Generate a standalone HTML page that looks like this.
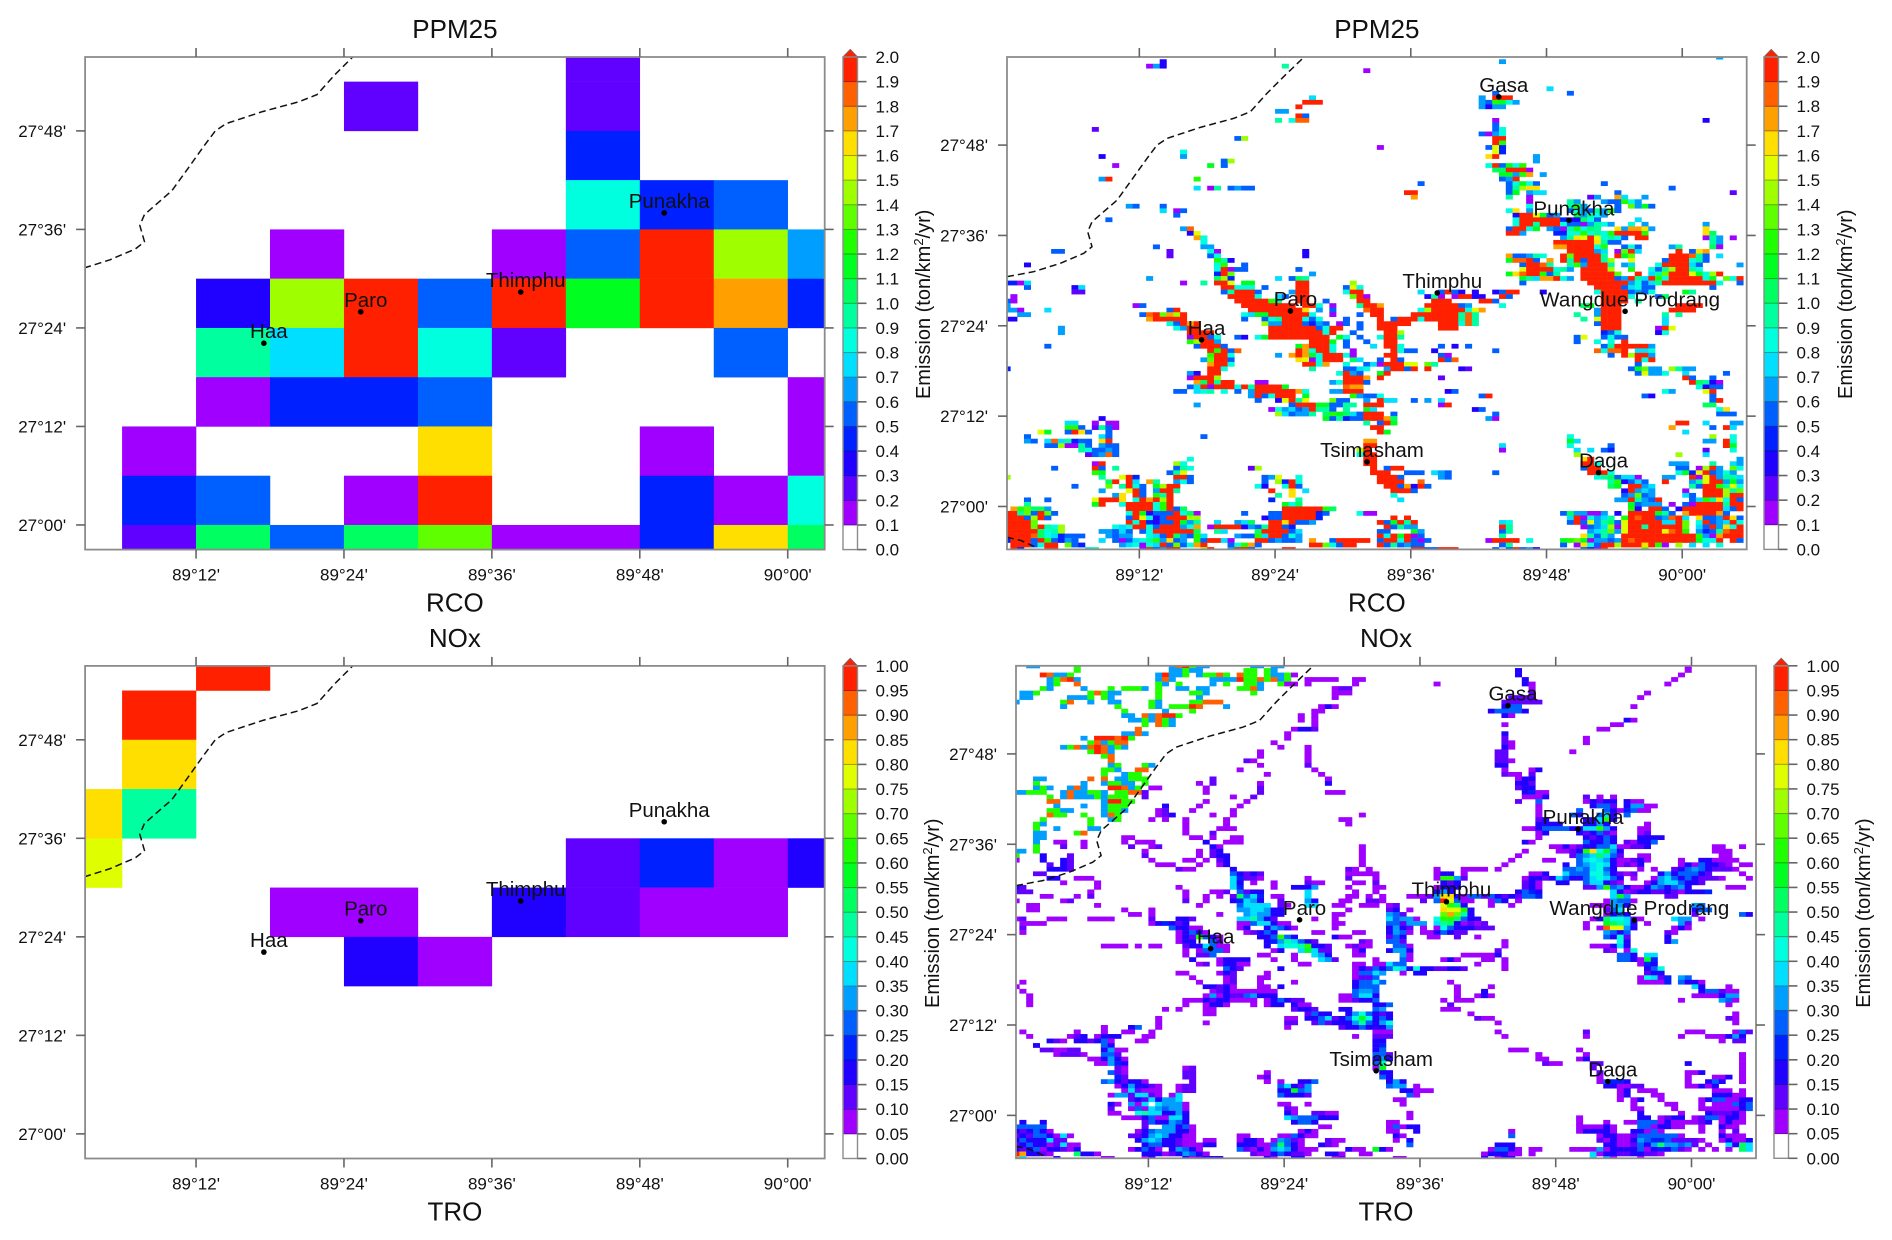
<!DOCTYPE html>
<html lang="en">
<head>
<meta charset="utf-8">
<title>PPM25 and NOx emission maps</title>
<style>
html,body{margin:0;padding:0;background:#fff;width:1892px;height:1240px;overflow:hidden}
svg{display:block;font-family:"Liberation Sans",sans-serif;fill:#111}
</style>
</head>
<body>
<svg id="chart" xmlns="http://www.w3.org/2000/svg" width="1892" height="1240" viewBox="0 0 1892 1240"></svg>
<script>
/* ---------- chart data ---------- */
const lonTickValues = [89.2, 89.4, 89.6, 89.8, 90.0];
const lonTickLabels = ["89°12'", "89°24'", "89°36'", "89°48'", "90°00'"];
const latTickValues = [27.8, 27.6, 27.4, 27.2, 27.0];
const latTickLabels = ["27°48'", "27°36'", "27°24'", "27°12'", "27°00'"];
const ppmLegendLabels = ["0.0","0.1","0.2","0.3","0.4","0.5","0.6","0.7","0.8","0.9","1.0","1.1","1.2","1.3","1.4","1.5","1.6","1.7","1.8","1.9","2.0"];
const noxLegendLabels = ["0.00","0.05","0.10","0.15","0.20","0.25","0.30","0.35","0.40","0.45","0.50","0.55","0.60","0.65","0.70","0.75","0.80","0.85","0.90","0.95","1.00"];
const paletteColors = ["#ffffff","#9f00ff","#6000ff","#2000ff","#0020ff","#0060ff","#009fff","#00dfff","#00ffdf","#00ff9f","#00ff60","#00ff20","#20ff00","#60ff00","#9fff00","#dfff00","#ffdf00","#ff9f00","#ff6000","#ff2000"];

const coarseCityNames = ["Haa","Paro","Thimphu","Punakha"];
const coarseCityLons = [89.2917,89.4227,89.639,89.833];
const coarseCityLats = [27.369,27.4328,27.4728,27.6336];
const fineCityNames = ["Gasa","Punakha","Thimphu","Wangdue Prodrang","Paro","Haa","Tsimasham","Daga"];
const fineCityLons = [89.7297,89.833,89.639,89.9158,89.4227,89.2917,89.5355,89.8767];
const fineCityLats = [27.9069,27.6336,27.4728,27.432,27.4328,27.369,27.0987,27.075];

const borderLons = [89.005,89.0443,89.0837,89.118,89.1303,89.1239,89.1303,89.1672,89.1867,89.2113,89.2261,89.2408,89.2898,89.3389,89.3635,89.388,89.4125,89.442];
const borderLats = [27.5086,27.5197,27.5383,27.5604,27.575,27.6082,27.6303,27.6783,27.7188,27.7706,27.8,27.8148,27.8392,27.8591,27.8737,27.9144,27.9511,27.994];
const cornerBorderLons = [89.005,89.025,89.05];
const cornerBorderLats = [26.932,26.925,26.908];

/* 0.1 degree grid, values in ton/km2/yr; rows run north to south */
const ppmCoarse = [
[0,0,0,0,0,0,0,0.25,0,0,0],
[0,0,0,0,0.25,0,0,0.25,0,0,0],
[0,0,0,0,0,0,0,0.45,0,0,0],
[0,0,0,0,0,0,0,0.85,0.45,0.55,0],
[0,0,0,0.15,0,0,0.15,0.55,1.95,1.45,0.65],
[0,0,0.35,1.45,1.95,0.55,1.95,1.15,1.95,1.75,0.45],
[0,0,0.95,0.75,1.95,0.85,0.25,0,0,0.55,0],
[0,0,0.15,0.45,0.45,0.55,0,0,0,0,0.15],
[0,0.15,0,0,0,1.65,0,0,0.15,0,0.15],
[0,0.45,0.55,0,0.15,1.95,0,0,0.45,0.15,0.85],
[0,0.25,1.05,0.55,1.05,1.35,0.15,0.15,0.45,1.65,1.05]
];
const noxCoarse = [
[0,0,0.975,0,0,0,0,0,0,0,0],
[0,0.975,0,0,0,0,0,0,0,0,0],
[0,0.825,0,0,0,0,0,0,0,0,0],
[0.825,0.475,0,0,0,0,0,0,0,0,0],
[0.775,0,0,0,0,0,0,0.125,0.225,0.075,0.175],
[0,0,0,0.075,0.075,0,0.175,0.125,0.075,0.075,0],
[0,0,0,0,0.175,0.075,0,0,0,0,0],
[0,0,0,0,0,0,0,0,0,0,0],
[0,0,0,0,0,0,0,0,0,0,0],
[0,0,0,0,0,0,0,0,0,0,0],
[0,0,0,0,0,0,0,0,0,0,0]
];

/* 0.01 degree grid: each entry is [row, firstColumn, level, level, ...]; level N means the Nth legend bin */
const ppmFine = [
[0,105,6],[1,23,3],[1,73,6],[2,21,1,6,3],[2,41,9],[3,53,1],[7,80,7],[8,72,5],[8,83,5],
[9,45,7],[9,70,6],[9,72,19,19,19],[10,44,19,19,19],[10,70,6,5,12,11,8,6],[11,43,19],[11,70,6,3,6,6],
[12,40,6,6],[13,43,19,5],[14,40,9],[14,42,8,18,18],[14,72,1],[14,103,3],[15,72,5],[16,13,2],[16,72,5,8],
[17,70,5,1,6,8],[18,34,5,14],[18,72,19,19],[19,72,19,12],[20,55,1],[20,71,5,15,4],[21,26,8],[21,72,15,4],
[22,14,3],[22,26,6],[22,71,16,19],[22,78,6],[23,32,5,14],[23,78,6],[24,16,1],[24,30,11],[24,32,5],
[24,71,8,19,5,11,8,12],[25,72,10,10,19,19,19,1],[26,73,11,11,6,12,17],[26,79,6],[27,14,6,19],[27,28,12],
[27,73,5,6,19],[28,61,5],[28,74,5,8,11,8,5],[28,88,5],[29,28,7],[29,30,1,9],[29,33,5,6,5,5],
[29,74,5,9,14,16,16],[29,98,5],[30,59,19,19],[30,74,5,11],[30,77,6,7,7],[30,90,5],[30,107,2],[31,60,17],
[31,74,9],[31,77,1],[31,86,2,6],[31,90,17,7],[31,94,6],[32,77,1],[32,83,9,6],[32,88,6,5,5,12,8,6],
[33,18,6,5],[33,23,5],[33,77,8],[33,83,9,12,6],[33,90,5],[33,92,13,6,11,5],[34,23,7],[34,25,1,5],[34,74,8,16],[34,77,6],
[34,83,5,8,6,5,9,6,12,5],[35,25,5],[35,75,3,19,19,15,11,5,6],[35,84,11,6,9,8,6],[36,15,5],
[36,75,8,19,19,19,19,19,19,4,3,3,10,8,5],[36,93,7],[37,75,8,19,19,9,19,19,19,8,5,5,1,6,9,8,6],[37,92,8],[37,94,6],[37,103,6],
[38,26,6,18],[38,74,5,19,19,8,11],[38,80,6,5,1,9,12,8,10,9],[38,90,16,6,17,17,16,6],[38,103,16],
[39,27,3,15],[39,74,19,19,6],[39,81,4,4,8,8,12,8,9,8,12,19,19,19,19,12],[39,103,16,10],
[40,28,17,8],[40,82,6,9,16,15,19,15,8],[40,89,9,8,5],[40,93,19,19],[40,103,1,9,6],[40,107,1],
[41,29,8],[41,81,19,19,19,19,19,19,16,9,5,5],[41,104,9,6],
[42,22,5],[42,29,6,6],[42,81,17,17,19,19,19,19,8,12],[42,91,5,8,5],[42,98,6,9],[42,104,10,1],
[43,7,5,5],[43,24,2],[43,30,8,1],[43,44,3],[43,83,19,19,19,19,6,7],[43,90,1,13,19,7],[43,99,19],[43,101,5,16,17],
[44,24,2],[44,30,5,8],[44,44,3],[44,74,17,5,5,6,9,8],[44,82,19,13,19,19,19,19,9],[44,90,19,11,13],[44,98,19,19,19,18,9,5],[44,105,7],
[45,31,12,9,3],[45,74,11,18,18,19,5],[45,80,17],[45,82,19,9,19,5,19,19,9,14],[45,92,15],[45,97,5,19,19,19,8,9,5],
[46,3,3],[46,31,8,12],[46,35,5],[46,76,5,19,19,18,9],[46,83,9,12,6,19,19,19,9],[46,91,6,7],[46,96,8,19,19,19,19,7,5],[46,108,6],
[47,31,8,19,1,5,5],[47,43,5],[47,76,15,19,19,19,19,8,9,6],[47,85,19,19,19,19,14],[47,92,12],[47,95,8,5,9,14,19,19,9,8],
[48,31,4,19,13],[48,45,6],[48,74,11,16,18,19,19,12,5,9],[48,85,19,19,19,19,19,13],[48,93,19],[48,95,7,9,13,19,19,19,15,11,8],[48,104,14,19],
[49,21,6],[49,31,10,14,4],[49,40,7],[49,42,5,10,9],[49,76,11,9,7,17,17,19,8,6],[49,85,19,19,19,19,19,5,6,19,9,7,19,12,8,19,19,19,19,19,8,11],[49,106,13,8,19],
[50,0,4,4,1,7],[50,26,1],[50,29,9],[50,31,19,19,15],[50,35,11,11],[50,43,19,19],[50,51,14],[50,76,5],[50,86,19,19,19,19,19,19,6,8,5,7,9,19,19,19,19,19,19,19,19,8],[50,108,5],
[51,3,5],[51,10,3,7],[51,32,19,19,8,8,8],[51,38,5],[51,43,19,19],[51,50,5,15,8],[51,87,19,19,19,19,5,7,8,5,5],[51,104,5],
[52,10,2,2],[52,32,5,9,19,19,19,5],[52,42,6,19,19],[52,50,8,19,19],[52,61,7],[52,64,5,19,5,3],[52,69,3],[52,72,3,5,19,19],[52,79,3],[52,87,8,19,19,19,19,5,6,5,8],[52,100,11,9],
[53,1,1],[53,33,19,19,19,19,8],[53,40,7,5],[53,43,19,19],[53,51,13,19,1],[53,62,3,9,1],[53,66,1,19,19,3,3],[53,73,19,5],[53,88,19,19,19,19,8],[53,96,5,10],
[54,0,5,1],[54,34,19,19,19,19,19,12,9],[54,43,19,19],[54,47,5],[54,52,19,19],[54,63,19,19,19],[54,70,19,19,5],[54,88,19,19,19,19],[54,93,9],
[55,0,6],[55,19,1,5],[55,35,19,19,19,19,19,19,19],[55,42,19],[55,44,19,19,8],[55,48,1],[55,52,9,19,19,17],[55,62,19,19,19,19,19,5,6],[55,73,8],[55,85,10,11],[55,88,19,19,19],[55,99,19,19,19,19],
[56,0,6,6,1],[56,6,7],[56,24,5,19],[56,36,19,19,19,19,19,19,19,19,16],[56,46,6],[56,48,5],[56,53,18,19,19],[56,61,8,14,19,19,19,19,19,8,15,17],[56,87,6,19,19,19],[56,98,19,19,19,19],
[57,2,6,6],[57,20,5,18,19,13,17,14,19],[57,35,8,7,11,11,19,19,19,19,19,19,8],[57,48,1],[57,52,5],[57,54,19,19],[57,60,19,19,19,19,19,19,19,9],[57,68,18,9],[57,84,9],[57,87,6,19,19,19],[57,97,9],[57,99,9],
[58,0,3,3],[58,21,17,19,19,19,19,19],[58,35,5],[58,38,5,8,9,19,19,19,8,5,8],[58,50,5],[58,55,19],[58,57,5,19,19,19,8],[58,62,19,19,19,19,19,9,18,9],[58,85,9],[58,87,15,19,19,19],[58,97,7],
[59,24,8,5,19,17,19],[59,38,14,6,6,19,19,19,5,4,6,5],[59,49,1,5],[59,52,5],[59,55,19,19,19,19,19],[59,64,19,19,19,8],[59,68,18,9],[59,87,5,19,19,19],[59,97,7],
[60,8,6],[60,25,8,6,19,19],[60,39,19,19,19,19,19,19,19,5,8,19,19],[60,52,5],[60,55,19,19,19],[60,64,19,19,19],[60,88,19,19,19],[60,96,1,19,15],
[61,8,6],[61,27,19,19,19,19],[61,39,19,19,19,19,19,19,19,19,8,19],[61,51,5],[61,56,19,19],[61,58,14],[61,88,4,5,8],[61,96,3,8],
[62,27,1,19,19,5,8],[62,34,5,3],[62,37,8,11,19,19,19,19,19,19,19,19,19],[62,49,11,8],[62,52,5],[62,55,8,19,19,9],[62,84,5,15],[62,88,5,8,5,5],
[63,27,12,14,19,19,6],[63,45,19,19,19,11],[63,50,5],[63,53,5],[63,56,19,19],[63,84,5],[63,87,8],[63,89,8],[63,91,19],
[64,6,5],[64,28,5,19,19,19,5],[64,43,11,17,19,19,19,8],[64,50,5],[64,54,7],[64,56,19,19,8],[64,64,5],[64,66,3],[64,68,5],[64,88,5,9,19,19,19,19,19,6],
[65,30,19,12,19,5,18],[65,43,19,17,8,19,19,8],[65,51,1],[65,57,19,8,5,5],[65,63,3],[65,72,5],[65,87,18,8,18,18,19],[65,93,7,7,8],
[66,30,12,19,19,8],[66,40,6],[66,42,17,19,17,11,8,19,19,19,8,1],[66,56,19,19],[66,64,5,1],[66,89,5],[66,91,19,14,19,19,6],
[67,29,6,13,19,19,5],[67,43,16,15,1,8,19,19,19],[67,51,10,7],[67,55,5],[67,57,19,5],[67,64,19,5,18],[67,93,19,8,19],
[68,30,17,19,19,8],[68,44,19,19,8,17],[68,50,8],[68,53,5,7],[68,55,1,19,19,19,15,15],[68,62,13,9],[68,93,5],
[69,0,4],[69,30,19,19,8],[69,45,9],[69,50,5,5,7,8],[69,56,6,19,19,5,19],[69,62,19],[69,67,3,2],[69,92,5,11,13,6,6],[69,98,14,9,6],[69,101,6],
[70,27,6,3],[70,30,19,19],[70,49,8,19,6,5],[70,55,11,19],[70,93,5,15,6,6,8],[70,100,7],[70,106,5],
[71,27,1,19,19,19,14],[71,50,19,19,19,17],[71,55,19],[71,64,2],[71,100,19,5],[71,104,5],
[72,28,17,10,19,9,19,19],[72,37,1,1],[72,48,6,8,19,19,19],[72,53,5],[72,101,19,10,9,3,1],
[73,27,5,7,19,1,19,19,19,8,19,9,19,19,19,19,11],[73,50,18,17,17],[73,102,8,3,5,5],
[74,25,5,5],[74,28,7,8,9],[74,32,8],[74,34,5],[74,36,6,19,19,19,19,19,19,17,8],[74,48,6,6,19,19,19],[74,65,3,5],[74,97,8,6],[74,103,15,19],
[75,36,6,19,5,8,19,19,19],[75,44,11],[75,51,12,6,5,5],[75,55,8],[75,70,5,19],[75,94,5,3],[75,104,5],
[76,37,5],[76,40,3,15,19,9,15],[76,48,13,5,5],[76,53,6],[76,55,19,7,7],[76,60,5],[76,62,6],[76,64,7],[76,104,5,19],
[77,28,6],[77,42,5,19,19,19,11,11,5,5,9,9],[77,53,19,19,19],[77,64,1,19],[77,103,10,10],
[78,39,1,8,6,7,5,6,19,9,9,5],[78,50,9],[78,53,11,7],[78,69,3,5],[78,105,8,16],
[79,40,14,7,5,6,6,9],[79,47,10,12,11,10,7,5,19,19,19],[79,57,5],[79,72,5],[79,105,5,5,5],
[80,14,3],[80,47,11,5,9,4,5,5,19,19,19,17,10],[80,71,6,1],
[81,9,7,7],[81,13,1],[81,15,1,1],[81,53,9],[81,55,5,19,11],[81,99,19,19],[81,103,7],[81,107,6,6],
[82,9,12,12,5],[82,13,2,9,5,1],[82,54,19,19],[82,98,17],[82,104,5],[82,106,19,7],
[83,5,15,11],[83,9,5,19,16,5],[83,15,5],[83,55,19,11],[83,100,7],[84,3,5],[84,14,7,5],[84,29,5],[84,83,8],[84,104,14],[84,107,8],
[85,3,6,5],[85,6,7,18,7,9,4,5,5],[85,14,16,19],[85,53,17,17],[85,83,11,7],[85,103,6,6],[85,106,19,8],
[86,6,5,5,14,1,1,9,5],[86,14,6,5,5],[86,53,19,19],[86,73,7],[86,83,8],[86,89,5],[86,106,19,11],
[87,11,9,8,5,5,6,5],[87,52,14,19],[87,73,1],[87,84,7],[87,86,7],[87,88,5,4],[87,103,2],[87,107,8],
[88,12,2,5,6,18,5],[88,52,8,19,19],[88,84,14],[88,99,14],[88,103,7],[89,27,8],[89,53,19,19],[89,85,16,19],[89,108,6],
[90,13,1,19],[90,25,14,8],[90,53,19,19],[90,85,19,19,8],[90,98,6,6,6],[90,104,9],[90,107,7,6],
[91,7,5],[91,13,19,5],[91,16,9],[91,25,5,9,8],[91,36,2,14],[91,54,19],[91,56,5,19,19],[91,85,5,19,19],[91,99,5,5],[91,102,1,14,19,6],[91,107,13,8],
[92,13,12,11],[92,24,5,9,15],[92,54,19,19,19],[92,59,5,5,5],[92,63,7,6,5],[92,72,5],[92,86,19,19,19,8],[92,99,8,11,4,15,19,5,6,8,6],
[93,0,14],[93,14,9],[93,17,15,19,4],[93,25,19,19,5],[93,38,5,6,15],[93,43,8],[93,55,19,19,19,5],[93,64,6,5],[93,87,8,9,10,5,7,7,1],[93,97,6,6],[93,101,19,1,15,19,6,9,9,7],
[94,15,10,19],[94,18,19,7],[94,21,17,9],[94,25,6,8,5],[94,38,5],[94,40,14,4,19,8],[94,55,19,19,19,19],[94,61,18],[94,89,9,12,3,5,7,5],[94,97,19],[94,101,6,9,15,19,19,6,11,6],
[95,10,5],[95,15,13],[95,17,9,19,8,5],[95,22,11,14,19,19],[95,37,8,3],[95,41,8,19,5],[95,56,19,19,5,17,3,19],[95,62,5],[95,89,10,11],[95,92,19,19,6,7],[95,101,9,5,19,19,12,9,15,8],
[96,14,6],[96,18,15,19,5],[96,22,6,19,19,9],[96,39,19],[96,42,16],[96,44,7],[96,57,19,19,19,5],[96,91,3,19,6,7,6],[96,100,1],[96,103,19,19,19,14,9,13],
[97,16,6,16],[97,19,19,5],[97,22,12,9,19],[97,40,9],[97,42,16],[97,57,8],[97,91,5,6,13,5,6],[97,100,7,5],[97,103,19,19,19,14,19,19],
[98,3,5],[98,6,5],[98,13,15,19,19,19,16],[98,19,8,19,17,19,14,19],[98,39,4],[98,43,9],[98,58,7],[98,90,6,6,19,9,6,5,19],[98,101,5,7,12,9,16,8,19,5],
[99,3,9],[99,13,11,19],[99,17,8,19,19,19,19,8,12,19],[99,41,11,8,10],[99,92,11,5,6,6,6],[99,98,1],[99,100,5,1,19,19,19,19,9,19,19],
[100,1,17,12,13,10,10,6],[100,18,19,19,19,19,8,12,19,5,10],[100,41,19,19,19,19,19,19,12,10],[100,92,12,3],[100,95,19,19,5],[100,99,3,19,19,19,19,19,19,7,5,19],
[101,0,19,19,9,13,5,19,13,5],[101,18,8,19,11,3,5,5,5,19,8,10,1],[101,35,5],[101,39,5,5,19,19,19,19,19,4,5],[101,52,8,1,1],[101,82,5,10,6,6,1,1,6],[101,90,3],[101,92,19,19,19,19,11,9,5],[101,100,17,19,19,19,19,17,5],
[102,0,19,19,19,5,14,19,5],[102,18,5,19,15,8,3,5,19,19,19,14,14],[102,38,3,5,5,19,19,19,19,19,4],[102,57,19],[102,59,19],[102,83,7,19,1,8,6,7,9],[102,91,12,19,18,19,19,5,6,18,19,7],[102,102,16,5,5,6,19,16,5],
[103,0,19,19,19,19,13],[103,18,19,8,19,4,3,5,5,19,11,6,9],[103,31,7],[103,34,6,7,10],[103,39,19,19,16,19,5,5,6],[103,55,19,5,11,19,9,19],[103,73,7,8],[103,83,5,19,5,15,6,9,10,5,15,19,19,19,19,19,7,7,19,13],[103,102,8,19,5,6,7,19,8],
[104,0,19,19,19,19,13,19,9,8,14],[104,16,8,7,8,19,19,8,5,19,19,19,6,8,17],[104,30,1,19,19,19,19,3,6,5,9,19,19,5,4],[104,56,19,5,9,6,6],[104,73,19,9],[104,85,1,5,6,7,14,1,15,19,19,9,19,19,19,19,19,13],[104,102,7,5,19,6,16,8,19],
[105,0,19,19,19,19,19,10,8,9,14],[105,14,6,6,5,7,5],[105,20,5,8,19,19,19,19,19,19,10],[105,31,9,7],[105,37,10,19,19,19,19,5,7],[105,55,5,5],[105,60,11,6],[105,73,5,9],[105,86,6,7,9,13,6,15,19,19,19,19,19,15,18,19,12],[105,102,6,4,5,9,18,19,19],
[106,0,19,19,19,19,18,10,8,7,4],[106,9,5,5,5],[106,15,6,5,6,6],[106,21,8,7,5,19,10,6,5,12,7],[106,34,6,5,5,12,7,19,19,5,8,6],[106,55,19,8,19,11,19,1,5],[106,73,9],[106,85,16,9,5,9,6],[106,91,19,19,19,19,19,19,19,19,19,19,19,12,6,1,17,19,19,19],
[107,0,4,19,19,19,5,19,12,5,4,6,5],[107,14,7],[107,16,5,1,5,7,8,9,12,6,16,5,6],[107,28,12,5,19,19,7,1],[107,37,19,19,5,6,5,5,6],[107,45,17],[107,48,5,19,19,19,19,19],[107,55,5,19,19,8,19,5,1,5],[107,71,1,19,19,19,19],[107,77,8],[107,82,11,12,13,11,1,6,6,5,6,19,18,19,19,19,19,19,19,19,19,19,11,8,8],[107,105,19],[107,107,19,5],
[108,1,19,19,19,5,8,19,19],[108,9,13,5,4],[108,17,6,7,8,1,8,7,19,5,13,5],[108,27,8,17,19],[108,33,5,8,12,17,5],[108,45,19,19,13,8,5,19,19],[108,55,19,5,9,5,6,5,5],[108,73,5,9],[108,82,5],[108,84,1,16,8,5,19,19,14,19,19,19,16,19,12,1],[108,99,14],[108,101,7],[108,103,7],[108,105,8],
[109,1,19,4],[109,6,19,19],[109,12,7,9],[109,20,1,19,5,6,19,19],[109,29,14,19],[109,33,6,19,19,5],[109,41,19,19],[109,60,19,19,5,5,19,19,19],[109,72,5],[109,74,5,19,5,6,3],[109,85,5,3,1,19],[109,94,13]
];

const noxFine = [
[0,2,6,6],[0,9,12],[0,23,6,18,19,12,6,6],[0,35,6,6],[0,38,6,6],[0,99,1],
[1,9,12],[1,23,6,6,12,6,6],[1,34,12,12],[1,37,12,6],[1,74,3],[1,99,1],
[2,4,19,18,6,6,12],[2,21,6,19,6,6,12],[2,27,6,12,12,18,12],[2,33,18,12,12],[2,37,12,6,6,12,1],[2,74,3],[2,98,1],
[3,5,6,12,18,19,6],[3,21,6,18,6],[3,29,6,6,6,6,19,12,12,18,12,18,6,12],[3,43,1],[3,44,1,1,1,1],[3,50,1,1],[3,75,3],[3,97,1],
[4,5,6,12],[4,9,18],[4,21,12,6],[4,24,12],[4,29,6],[4,31,12],[4,34,12,12,6],[4,39,12,1,1],[4,43,1],[4,50,1],[4,62,1],[4,75,3,1],[4,96,1],
[5,4,12,6],[5,10,6],[5,14,12],[5,16,12,12,12,6],[5,21,12],[5,24,6,6],[5,27,6,6],[5,33,12,12,18,6],[5,47,1,2,2],[5,76,1],
[6,1,6,6,12],[6,11,12,18,12,6,6],[6,21,12],[6,26,12,12,6],[6,35,12],[6,47,1,1,1],[6,76,2],[6,93,1],
[7,1,6,6],[7,8,6,6,6,12],[7,13,12,6],[7,21,12],[7,27,6],[7,47,1],[7,73,2,2,2,2],[7,92,1],
[8,0,6],[8,7,12,18],[8,11,6],[8,14,6,6],[8,20,12,6],[8,26,12,12,18,18,18],[8,72,2,2,2,2,2,2],
[9,7,6],[9,15,12],[9,20,12,6],[9,23,12,12,12,19,18],[9,31,6],[9,45,1,3,1],[9,72,3,5,5],[9,91,1],
[10,16,12],[10,22,6],[10,26,12],[10,44,1,1],[10,70,3,5,5,5,5,3],
[11,16,6,6],[11,19,18,6,18,19,19,12],[11,42,1],[11,44,1],[11,72,3,1],
[12,17,6,6,12,6,18,12,6],[12,42,1],[12,44,1],[12,90,3,1],
[13,19,12],[13,21,18,12,6],[13,44,1],[13,72,1],[13,88,1,1],
[14,18,18],[14,41,1,3,3,2],[14,86,1,1],
[15,16,6,6,6,6],[15,18,18],[15,40,1],[15,72,3],
[16,10,6],[16,12,19,19,19,18,19,12],[16,40,1],[16,72,2],[16,84,1],
[17,11,12,18,6,12,18,18],[17,38,1],[17,72,2,1],[17,84,1],
[18,7,6,12,18,6,18,19,18,6,12,6],[18,39,1],[18,43,1],[18,72,3,1],
[19,11,12,19,18,6],[19,36,1],[19,43,1],[19,71,2,2],[19,82,1],
[20,13,12,18],[20,36,1],[20,43,1],[20,71,2,2],
[21,14,18],[21,34,2,1],[21,43,1],[21,71,2,2,1],
[22,14,6,12],[22,19,12,6],[22,36,1],[22,43,2],[22,71,3,3],
[23,13,12,12,6],[23,18,18,18],[23,33,1],[23,44,1],[23,72,1],[23,76,1,3],
[24,13,12],[24,16,6,12,12],[24,37,1],[24,45,1],[24,72,2,1,1],[24,76,2],
[25,3,6,6],[25,11,18],[25,13,18],[25,15,6,6,12,12,12],[25,29,2],[25,46,1],[25,74,1,3,3],
[26,3,12],[26,10,6],[26,13,6,12,12,6,6],[26,19,12],[26,27,1],[26,29,2],[26,36,1],[26,46,3],[26,74,3,3,2],
[27,3,6,12,6],[27,8,6,18,6],[27,14,19,19,18,6],[27,18,12],[27,20,1,1],[27,28,1],[27,36,2],[27,74,2,3,3],
[28,0,6,6,12,12,12],[28,7,6,18,6,6,12,12],[28,13,6],[28,15,12,12],[28,17,18,18],[28,19,2],[28,28,1],[28,36,2],[28,46,1,1,1],[28,75,3,4,1,1],
[29,5,12],[29,7,6,18,6,6,6,12],[29,13,6,12],[29,15,12,12],[29,19,2],[29,32,1],[29,35,2],[29,75,1,1,1,3],[29,84,2],[29,86,1],[29,88,1],
[30,5,18,18],[30,13,6,19,19,12,12],[30,28,1],[30,34,1],[30,74,2],[30,77,5],[30,84,1,3,2,3,3],[30,90,3,1,1],
[31,6,6],[31,10,6],[31,13,6,12,12,12],[31,22,3],[31,27,1],[31,33,1],[31,77,1],[31,85,3,5,5,2],[31,90,3,6,6,1,1],
[32,5,12,12,6,6],[32,13,6,12,12,6],[32,21,1,2],[32,26,1],[32,32,1],[32,77,1],[32,83,5],[32,87,5,3,1,4,5,1,1],
[33,5,18,12,12],[33,10,12],[33,13,6,18,12],[33,21,1,2,3],[33,29,1],[33,32,1],[33,51,1],[33,77,1],[33,82,5,3],[33,86,5,7,3],[33,90,5],
[34,4,12],[34,11,12],[34,14,6,12],[34,20,1],[34,22,1],[34,25,1],[34,31,1],[34,48,1,1],[34,77,2,3],[34,84,3,3,7,12,3],
[35,3,12,6],[35,11,12],[35,25,1],[35,31,1],[35,49,1],[35,77,3,3,3,3],[35,84,3,3,6,3],[35,93,1],
[36,3,12],[36,6,6],[36,11,6,6],[36,25,1],[36,30,1,1,1],[36,75,1,1,3,5,5,5,5,3,3,7,7,12,6,3],[36,92,1,1],
[37,3,6,6],[37,9,12,18],[37,25,1],[37,29,2],[37,77,1,3],[37,83,3,2,3,5,2,1],[37,92,1,2],
[38,3,6,6],[38,16,1,1],[38,26,1,1],[38,29,1],[38,32,1,1],[38,77,1],[38,84,3,2,3,5,3],[38,92,3,3,3,3],
[39,3,6],[39,6,1,1],[39,10,1],[39,16,1],[39,18,1,1,1],[39,28,3],[39,31,1,1,1],[39,75,3,1],[39,84,5,3,3,5,3],[39,90,2,1,3,3,5],
[40,3,12],[40,7,2],[40,10,1],[40,17,2],[40,20,1,2],[40,29,3,1],[40,51,1],[40,79,1,1,3,1,2,3,3,5,5,7,1,1],[40,91,2,2,3],[40,103,1,1],[40,107,1],
[41,0,6,6],[41,3,12],[41,19,1],[41,27,1],[41,29,2,3],[41,51,1],[41,75,1],[41,80,1,1,2,3,12,16,8,11,6,3],[41,103,1,1,1],
[42,0,12],[42,4,3],[42,8,2],[42,19,2],[42,27,1],[42,29,2,3,3],[42,51,1],[42,74,1],[42,82,2,5,6,7,10,7,5,2],[42,92,1,1],[42,104,1,1],
[43,0,1],[43,4,3],[43,7,3,2],[43,20,1],[43,25,1,1],[43,28,1],[43,30,2,3],[43,51,1],[43,73,1],[43,78,1,1],[43,83,5,7,8,7,6,3,1,1,2,3,1],[43,98,1],[43,101,3,3,1,1,1,1],
[44,5,2],[44,7,3,2],[44,21,1,1,1],[44,27,1],[44,30,1,3],[44,51,1],[44,72,1],[44,81,3],[44,83,5,6,7,8,7,3,1,2,1,3],[44,98,1,3,1,5,3,3,2,1],[44,107,1,1],
[45,5,3,3,3,2],[45,24,2,1,1],[45,32,3],[45,49,2,1],[45,52,1],[45,62,1],[45,66,1,1,1,1],[45,71,1],[45,81,5,5,6,5,7,8,5,3],[45,92,1],[45,94,1],[45,97,2,3,5,6,5,3,2,2,2,1],
[46,3,2,2],[46,32,5,3,2,3,2],[46,49,1,1,1,1,1],[46,62,1,3,3],[46,66,1],[46,76,1,1,3],[46,81,7,5,5,5,8,8,6,3,2,1,2],[46,95,3,6,3,5,5,5,3,2],[46,107,1],
[47,5,3,3],[47,9,1,1,1],[47,32,7,4,2,2,1],[47,43,1],[47,49,2],[47,53,1],[47,62,1,12,12,6,2],[47,75,1,3,3,2,3,7,5,3,3,5,7,8,7,5,3],[47,91,1],[47,94,1,6,7,5,3,5,3,2,2,2,1],[47,108,1],
[48,7,1],[48,12,1],[48,32,7,3],[48,35,1],[48,38,1],[48,43,2,1,1],[48,50,1,1],[48,53,2],[48,63,3,2,3],[48,75,2,3,1],[48,80,3,3],[48,84,5,7,7,3,2,1],[48,93,1,3,6,7,7,5,3,3,2],
[49,0,3,2],[49,12,1],[49,24,1],[49,32,7,4],[49,38,1],[49,41,3,3,3,6],[49,49,1],[49,53,1,1],[49,62,1,3,3,3],[49,75,2,3,1],[49,84,2,2,6,12,5,6,3,1],[49,92,1,3,6,5,3,5,6,3],[49,105,1,1,1],
[50,0,2,2,2],[50,11,1],[50,25,1],[50,29,1,1,2],[50,33,5,2,3,3],[50,43,7],[50,50,1],[50,53,1],[50,62,3,6,3],[50,74,3,5,4,3],[50,88,7,3,1,2,3,3,2,2,3,2,1,3,3,3,4],
[51,4,1,1],[51,9,1],[51,11,2],[51,25,1],[51,28,1],[51,30,1],[51,32,2,10,5,7,4],[51,38,1,1],[51,43,7],[51,49,1,1],[51,52,1],[51,54,1],[51,58,1,1,1,2,6,16,16,3,1,5,5],[51,69,2,5,3,2,3,2,5,5,4],[51,88,7,11,6],[51,96,2,2],
[52,0,1],[52,7,1,2],[52,25,2],[52,28,1],[52,32,3,4,7,6,3],[52,39,2],[52,43,6,3],[52,48,1,1],[52,52,2,2,1],[52,60,2],[52,62,5,19,15,5,1,1],[52,70,1,5,3],[52,74,1],[52,87,1,6,5,5,1],
[53,2,1,1],[53,12,1],[53,27,1],[53,33,5,7,7,7,7],[53,39,2,1],[53,43,7,7],[53,47,1,1],[53,51,1,1,1],[53,55,1,2],[53,63,15,12,10,3],[53,70,1],[53,73,1],[53,85,1,1,1],[53,88,6,6,3],[53,100,6,5],
[54,2,1,1],[54,16,1],[54,20,1],[54,33,6,6,7,7,6,3,3],[54,49,1],[54,55,2,3],[54,58,1],[54,63,16,15,15,12,3],[54,87,2,5,7],[54,100,3,5,5],
[55,17,1,1],[55,20,1],[55,30,1],[55,34,6,7,6,6,3,3],[55,47,1,1],[55,55,6,5,2],[55,63,13,17,13,9,3],[55,87,1,3,5,3],[55,100,2],[55,107,5,3],
[56,0,1,2],[56,5,1,1,1],[56,11,1,1,1,1],[56,20,2],[56,24,3,3,2],[56,33,7,7,9,6,3,2],[56,44,1],[56,47,1],[56,55,7,5,6,6,1],[56,62,8,12,12,10,5,3,3],[56,85,1,3,3],[56,87,10,8,8,7,2],[56,92,1],[56,97,7,6,6],[56,101,1],
[57,1,1,1,1,1],[57,20,1,3,4,3,2,3],[57,33,1,1,5,7,7,3,1,1],[57,47,1,1],[57,55,5,5,2,6,6,6],[57,62,7,9,10,3,1],[57,67,2,1,2],[57,84,1],[57,87,11,10,9,7,3],[57,93,1],[57,98,6,2],
[58,1,2],[58,23,5,3,3,1,1],[58,33,1,3],[58,37,3,6,5,3,1],[58,47,1],[58,55,3,6,3,2],[58,60,1],[58,62,1,8,5,3,3,3,2,2,2],[58,84,1],[58,86,1,18,15,15,6,3],[58,97,1,3,1],
[59,1,1],[59,24,1,3,5,3,1],[59,34,1,2,3,5,3],[59,44,1,1],[59,50,1,1],[59,55,3,6,5,1],[59,60,1,1,3,5,3,2,2],[59,87,6,5,3,5],[59,96,2,1],
[60,24,1,3,2,12,5,3,1],[60,36,3,3,5,12,5,3],[60,47,3,1,1],[60,55,2,5,3],[60,61,1,1],[60,65,2],[60,68,1],[60,87,5,3,8,2],[60,96,3],
[61,24,1,3,3],[61,29,5,2],[61,37,3,4,6,9,7,5,3,2],[61,51,2,1],[61,55,5,5,2],[61,72,1],[61,89,8,3],[61,96,3,6],
[62,13,1,1,1,1],[62,18,1],[62,20,1,1],[62,25,2,3,3,7,5,1,1],[62,37,3],[62,39,7,8,8,9,12,3,3,2],[62,49,1,2,1],[62,52,1],[62,56,5,5,1],[62,72,1],[62,85,1,1,1,3],[62,89,7,3],
[63,25,1],[63,27,1,5,5,5,1],[63,38,1,3],[63,42,7,11,7,2,2],[63,50,1,3],[63,55,3,6,6,3],[63,87,2,1],[63,90,1,8],[63,71,2],
[64,25,1],[64,27,2,2,5],[64,36,1,1],[64,41,1],[64,44,7,6,3],[64,50,1,1],[64,57,6,1],[64,66,1,1,1,1,1,3],[64,89,5,5,3],[64,93,7,7],
[65,26,3],[65,30,1,3,3,3,3],[65,38,1],[65,41,1],[65,45,7,6,2],[65,53,1],[65,57,5,1],[65,63,1,3,1],[65,69,1,1],[65,72,1],[65,89,5,5,3,1,11,4],
[66,27,1,2],[66,30,1,3,3,1,1],[66,42,1,1],[66,50,1,1],[66,53,1,1],[66,55,7,5,5],[66,68,1],[66,72,1],[66,92,1,4,3],
[67,31,5,3,2],[67,39,3],[67,50,1,3,2,5,3,5,8,7,3,8,3,3,2,2,3,3,2],[67,72,1],[67,93,3,5,8],
[68,24,1,1],[68,30,1,3,2],[68,37,1],[68,50,1,5,5,7,6],[68,57,1],[68,59,3,3],[68,93,2,3,3],
[69,26,1],[69,31,1,2],[69,36,1,1],[69,50,1,2,2,5],[69,92,1,8,7,2,4],[69,98,6,5],
[70,1,1],[70,27,1],[70,31,1,2],[70,36,1],[70,41,1],[70,50,3,5,5,7,5],[70,64,1],[70,92,1,1,1,1,4],[70,98,5,3,3,1],
[71,0,1],[71,28,3,3,2,3,1],[71,36,1,1],[71,39,3],[71,50,3,5,5,5],[71,65,1],[71,70,1],[71,100,7,3],[71,105,1],
[72,1,1],[72,29,1,2,3,1,1,1,1,1,1,1],[72,50,5,6,6,5],[72,65,1],[72,69,3],[72,101,3,5,5,2,1,1],
[73,2,1],[73,28,1,6,1,3,2,2,5,6,3,3,3],[73,48,1,1,5,7,7,3],[73,65,1],[73,68,1,3,1],[73,100,1,1,1,1,3,6,6],
[74,2,1],[74,25,1,1,1,3,2,3,3,1,1,1,1],[74,37,1,3,5,3,2,2],[74,48,1,1,2,3,3,5],[74,63,1],[74,65,1,1,1],[74,98,1],[74,104,6,5,1],
[75,2,1],[75,25,1],[75,28,1,3,3,1],[75,35,1],[75,37,1,3,3],[75,41,3,1,1],[75,53,3,3,5],[75,64,2],[75,105,1],
[76,22,1],[76,24,1],[76,28,1,1],[76,41,2,3,3,2],[76,48,3,3],[76,53,5,6],[76,63,1,1,1],
[77,28,1,1],[77,43,2,5,3,3],[77,49,3,6,8,5,3,2,3],[77,67,1],[77,106,1],
[78,21,1],[78,40,1,1],[78,43,3,3,5,7,2,3,5,8,11,8,3,5,3],[78,68,2,1,1],[78,105,2,1],
[79,21,1],[79,28,1],[79,40,2,2],[79,44,2,5,2,3,3,3,6,9,5,3,6,8],[79,71,1],[79,106,1],
[80,13,1],[80,17,3,5],[80,21,1],[80,40,1],[80,48,2,3,3,5,3,3,3,6],
[81,1,1],[81,9,1],[81,13,1],[81,16,1,1],[81,20,1],[81,53,1,1,1],[81,71,1],[81,84,2],[81,99,1,1,1],[81,106,1,5,2],
[82,2,1],[82,8,1,2,3],[82,12,1,3,3,3],[82,19,1,1],[82,50,1],[82,53,2,2,2],[82,72,1],[82,84,1],[82,98,1],[82,102,1,1,1,3,6,3],
[83,5,3,2,1],[83,9,3,3,2,3,5,1],[83,18,1,1],[83,53,3,3],[83,104,1],[83,106,2,2],
[84,3,3],[84,13,5,3],[84,53,3,4],
[85,4,2,2,1,1,2,2],[85,13,3,6,1,1],[85,53,3,5],[85,73,1,1,1],[85,83,1],
[86,6,1,2,2,2,1],[86,13,5,5,2],[86,53,5,5,2],[86,77,1],[86,84,1],[86,107,1],
[87,11,1,1,3,6,3,1],[87,53,3,6,3],[87,77,1,1],[87,83,1,3],[87,107,1],
[88,12,1,1,6,4,3],[88,53,5,9],[88,78,2,1,1],[88,85,2,2],[88,99,3],[88,107,1],
[89,15,2,1],[89,25,1,2],[89,53,1,11],[89,85,2],[89,107,1],
[90,14,5,2,1],[90,25,2,2],[90,37,1],[90,54,3,3],[90,86,2],[90,99,1,1,3],[90,107,1],
[91,15,4,2],[91,25,2,2],[91,36,1,2],[91,54,5,3],[91,86,1],[91,99,1],[91,103,1,1,3],[91,107,1],
[92,13,5,6,3,2,3,3,1],[92,26,2],[92,37,1],[92,39,1],[92,42,3,3,5],[92,55,3,6,3],[92,86,1,5,4,4,3],[92,99,1],[92,102,3,5,3],[92,107,1],
[93,15,1,3,6,3,3,2,1],[93,24,1,2,2],[93,39,5,7,3,2,6],[93,55,5,6,6],[93,59,1],[93,87,3,3,1,1,2,2],[93,99,1,1,3,1],[93,103,3],
[94,16,1,7,2,1,1,1],[94,24,1,2,2],[94,39,3,3,11,5,6],[94,57,3,3,1,1,1],[94,89,1,3],[94,92,1,1,1],[94,103,1,1,1],[94,107,1],
[95,14,1,6,6,2,7,7,2,1],[95,23,1,7],[95,39,5,3,3,3,2],[95,58,5,1],[95,89,1,3],[95,94,1,1],[95,103,3,3,3,1,1],
[96,17,2,3,2,7,3,6,6,7],[96,56,1,1],[96,89,1],[96,91,1,3],[96,95,1],[96,101,1,3,5,5,1,1,3,3],
[97,14,3,1],[97,17,6,1,7],[97,21,7,6,6,6,1],[97,39,1,1],[97,43,1],[97,57,1],[97,91,1],[97,96,1,1],[97,101,1],[97,103,1,1,1,5,3,5],
[98,14,2],[98,17,1,5,1,7,6,5,6,6,1],[98,40,2,1],[98,91,1,1],[98,97,1],[98,101,1,1,1,1,1,1,3,5],
[99,14,1,1],[99,18,8,9,7,7,3,3,6,3],[99,40,3,1],[99,44,2,2,1,1],[99,58,1],[99,92,3],[99,98,1],[99,102,3,2,2,2,3,1],
[100,16,1,1,1,3,5,1,1,7,7,3],[100,40,7,6,5,5,5,3,3,3],[100,58,1],[100,83,1],[100,92,3,3],[100,95,1,2,3,3],[100,100,1,2,5,5,1,3,3,1],
[101,1,3],[101,4,3],[101,19,2,5,3,3,6,5,3],[101,41,3,5,5,3],[101,55,1,1],[101,83,1],[101,87,1],[101,90,1,1,5,5,5,1,3,1,1,1,1,2,3],[101,104,1,3,1,1],
[102,0,5,5,5,5,5],[102,19,2],[102,22,6,6,3,5,1],[102,45,1,1],[102,55,1,5,1,3,3],[102,83,1,1,1,1,3,1],[102,92,5,5,1,3,3,1,1],[102,101,1],[102,104,3,1,1],
[103,0,3,2,3,5,3,1],[103,18,1,3,5,6,6,6,3,3,1],[103,42,1,3,1],[103,55,1,1],[103,59,3],[103,73,1],[103,83,1,3,3,3,3,1],[103,91,3,3,1,5,1],[103,101,1],[103,104,1],[103,106,2],
[104,0,2,3,2,5,5,3,1,7,1],[104,17,2,2,3,6,7,6,3,3,1,1],[104,33,1,1],[104,39,1,1,5,3,1,1],[104,56,3,1],[104,73,5],[104,86,1,3,3,1,1,2,5,5,5,5,5,5,1],[104,104,3,1,1,1],
[105,0,3,5,3,3,3,7,2,2],[105,18,3,6,7,6,3,3,2,1,1],[105,28,1,1],[105,33,1,3,3,1],[105,38,1,6,5,2,1],[105,46,2,1,1],[105,56,1],[105,58,3],[105,86,2,1,3,1,1,3,6,5,4,4,5,2,2,2,2,1],[105,104,1,3,1,1,3],
[106,0,2,3,5,3,3,1,2,7,1,1],[106,19,3,5,5,3,3,2,1],[106,26,1,1,3,3],[106,33,3,3,3,1,1],[106,38,5,10,5,3,1],[106,45,3,2,1],[106,58,5],[106,71,3,3,3],[106,87,3,3,1,1,2,5,3,6,10,6,6,5,6,2],[106,102,1],[106,105,7,3,10,7],
[107,0,3,2,3,5,1,3,3,2,1,3],[107,17,1,3,5,3,1],[107,21,1],[107,23,3,6,5,3,1],[107,33,5,2,1,3,1],[107,38,6,7,6,3,1,1,1],[107,49,3,1,1],[107,53,11,3,1],[107,70,1,5,5,3,1],[107,76,1,1],[107,82,1,1,1,1,6,1,3,3,3,3,5,1,3,4,3,5,2,1],[107,101,1],[107,103,1],[107,105,1],[107,107,10,7],
[108,0,19,17,3,3,2,1],[108,9,10,3,3,1],[108,19,3,3,3,1,2,3,6,5,3,1],[108,35,2,1,1],[108,38,3,5,3,2,2,1],[108,46,3,3,1],[108,51,1,1],[108,69,1,3,3,3,1,1],[108,76,1],[108,85,7,1,3,3,2,2,3,3,2,2,1],
[109,0,17,7],[109,6,3],[109,13,1,1],[109,19,1,3],[109,25,3,1,2,3,3,3],[109,37,3,1],[109,41,3,3],[109,47,1,2],[109,56,1,1],[109,69,3],[109,71,1,3,3],[109,85,7],[109,87,6,1],[109,92,1]
];

/* ---------- layout ---------- */
const panelTitles = ["PPM25","PPM25","NOx","NOx"];
const panelXLabels = ["RCO","RCO","TRO","TRO"];
const panelLayouts = [
  {left:85.1,right:824.7,top:57,bottom:549.6,barX:843,labelX:923,lonMin:89.05,lonMax:90.05,latMin:26.95,latMax:27.95},
  {left:1007,right:1746.7,top:57,bottom:549.4,barX:1764,labelX:1845,lonMin:89.005,lonMax:90.095,latMin:26.905,latMax:27.995},
  {left:85.1,right:824.7,top:665.9,bottom:1158.5,barX:843,labelX:932,lonMin:89.05,lonMax:90.05,latMin:26.95,latMax:27.95},
  {left:1016,right:1756,top:665.8,bottom:1158.3,barX:1774,labelX:1863,lonMin:89.005,lonMax:90.095,latMin:26.905,latMax:27.995}
];

const SVG_NS = "http://www.w3.org/2000/svg";
const chart = document.getElementById("chart");
function makeSvg(tag, attrs, parent) {
  const node = document.createElementNS(SVG_NS, tag);
  for (const key in attrs) node.setAttribute(key, attrs[key]);
  parent.appendChild(node);
  return node;
}
function colorForValue(value, step) {
  const bin = Math.max(0, Math.min(paletteColors.length - 1, Math.floor(value / step + 1e-9)));
  return paletteColors[bin];
}
function drawCell(group, xScale, yScale, lon, lat, half, fill) {
  const x0 = xScale(lon - half), x1 = xScale(lon + half), y0 = yScale(lat + half), y1 = yScale(lat - half);
  const cell = makeSvg("rect", {x:x0, y:y0, width:x1 - x0 + 0.25, height:y1 - y0 + 0.25, fill:fill}, group);
  
  
}
function drawBorder(group, xScale, yScale, lons, lats) {
  const points = lons.map((lon, i) => xScale(lon).toFixed(1) + "," + yScale(lats[i]).toFixed(1)).join(" ");
  const line = makeSvg("polyline", {points:points, fill:"none", stroke:"#111", "stroke-width":1.5, "stroke-dasharray":"7 4"}, group);
  
  
}
function drawLabel(parent, x, y, str, size, anchor, name) {
  const t = makeSvg("text", {x:x, y:y, "font-size":size, "text-anchor":anchor, fill:"#111"}, parent);
  t.textContent = str;
  
  
  return t;
}
function drawTick(parent, x1, y1, x2, y2, name) {
  const tick = makeSvg("line", {x1:x1, y1:y1, x2:x2, y2:y2, stroke:"#666", "stroke-width":1.6}, parent);
  
  
}

function drawPanel(index, coarse, fine, step, legendLabels, cityNames, cityLons, cityLats) {
  const p = panelLayouts[index];
  const xScale = lon => p.left + (lon - p.lonMin) / (p.lonMax - p.lonMin) * (p.right - p.left);
  const yScale = lat => p.top + (p.latMax - lat) / (p.latMax - p.latMin) * (p.bottom - p.top);
  const panel = makeSvg("g", {}, chart);
  
  

  const clip = makeSvg("clipPath", {id:"plot-clip-" + index}, panel);
  makeSvg("rect", {x:p.left, y:p.top, width:p.right - p.left, height:p.bottom - p.top}, clip);
  const cells = makeSvg("g", {"clip-path":"url(#plot-clip-" + index + ")"}, panel);
  
  

  if (coarse) {
    coarse.forEach((row, r) => row.forEach((value, c) => {
      if (value >= step) drawCell(cells, xScale, yScale, 89.05 + 0.1 * c, 27.95 - 0.1 * r, 0.05, colorForValue(value, step));
    }));
  }
  if (fine) {
    fine.forEach(seg => {
      for (let i = 2; i < seg.length; i++) {
        const value = (seg[i] + 0.5) * step;
        drawCell(cells, xScale, yScale, 89.005 + 0.01 * (seg[1] + i - 2), 27.995 - 0.01 * seg[0], 0.005, colorForValue(value, step));
      }
    });
  }
  drawBorder(cells, xScale, yScale, borderLons, borderLats);
  drawBorder(cells, xScale, yScale, cornerBorderLons, cornerBorderLats);

  const frame = makeSvg("rect", {x:p.left, y:p.top, width:p.right - p.left, height:p.bottom - p.top, fill:"none", stroke:"#8c8c8c", "stroke-width":1.8}, panel);
  
  

  lonTickValues.forEach((lon, i) => {
    const x = xScale(lon);
    drawTick(panel, x, p.top, x, p.top - 9, 'x-axis-top-tick');
    drawTick(panel, x, p.bottom, x, p.bottom + 9, 'x-axis-tick');
    drawLabel(panel, x, p.bottom + 31, lonTickLabels[i], 17, "middle", 'x-tick-label');
  });
  latTickValues.forEach((lat, i) => {
    const y = yScale(lat);
    drawTick(panel, p.left, y, p.left - 9, y, 'y-axis-tick');
    drawTick(panel, p.right, y, p.right + 9, y, 'y-axis-right-tick');
    drawLabel(panel, p.left - 19, y + 6, latTickLabels[i], 17, "end", 'y-tick-label');
  });

  cityNames.forEach((name, i) => {
    const x = xScale(cityLons[i]), y = yScale(cityLats[i]);
    const dot = makeSvg("circle", {cx:x, cy:y, r:2.8, fill:"#000"}, panel);
    
    
    const label = drawLabel(panel, x + 5, y - 5, name, 20.5, "middle", 'city-label');
    if (name.length > 12) label.setAttribute("textLength", 180);
  });

  drawLabel(panel, (p.left + p.right) / 2, p.top - 19, panelTitles[index], 26, "middle", 'panel-title');
  drawLabel(panel, (p.left + p.right) / 2, p.bottom + 62, panelXLabels[index], 26, "middle", 'x-axis-title');

  const legend = makeSvg("g", {}, panel);
  
  
  const barW = 14.5, barH = p.bottom - p.top, n = paletteColors.length;
  const levelY = k => p.bottom - k / n * barH;
  paletteColors.forEach((color, k) => {
    const swatch = makeSvg("rect", {x:p.barX, y:levelY(k + 1), width:barW, height:barH / n + 0.3, fill:color}, legend);
    
    
    if (k > 0) makeSvg("line", {x1:p.barX, y1:levelY(k), x2:p.barX + barW, y2:levelY(k), stroke:"#000", "stroke-opacity":0.35, "stroke-width":1}, legend);
  });
  const arrow = makeSvg("polygon", {points:p.barX + "," + p.top + " " + (p.barX + barW / 2) + "," + (p.top - 7.5) + " " + (p.barX + barW) + "," + p.top, fill:"#ff2000", stroke:"#8c5a50", "stroke-width":1}, legend);
  
  
  makeSvg("rect", {x:p.barX, y:p.top, width:barW, height:barH, fill:"none", stroke:"#8c8c8c", "stroke-width":1.4}, legend);
  legendLabels.forEach((str, k) => {
    const y = levelY(k);
    drawTick(legend, p.barX + barW, y, p.barX + barW + 9, y, 'colorbar-tick');
    drawLabel(legend, p.barX + barW + 18, y + 6, str, 17, "start", 'colorbar-label');
  });

  const yMid = (p.top + p.bottom) / 2 + (index < 2 ? 1 : 1);
  const title = makeSvg("text", {transform:"translate(" + (p.labelX + 7) + "," + yMid + ") rotate(-90)", "font-size":20, "text-anchor":"middle", fill:"#111"}, legend);
  
  
  title.appendChild(document.createTextNode("Emission (ton/km"));
  const sup = makeSvg("tspan", {dy:-7, "font-size":13}, title);
  sup.textContent = "2";
  const rest = makeSvg("tspan", {dy:7, "font-size":20}, title);
  rest.textContent = "/yr)";
}

drawPanel(0, ppmCoarse, null, 0.1, ppmLegendLabels, coarseCityNames, coarseCityLons, coarseCityLats);
drawPanel(1, null, ppmFine, 0.1, ppmLegendLabels, fineCityNames, fineCityLons, fineCityLats);
drawPanel(2, noxCoarse, null, 0.05, noxLegendLabels, coarseCityNames, coarseCityLons, coarseCityLats);
drawPanel(3, null, noxFine, 0.05, noxLegendLabels, fineCityNames, fineCityLons, fineCityLats);
</script>
</body>
</html>
